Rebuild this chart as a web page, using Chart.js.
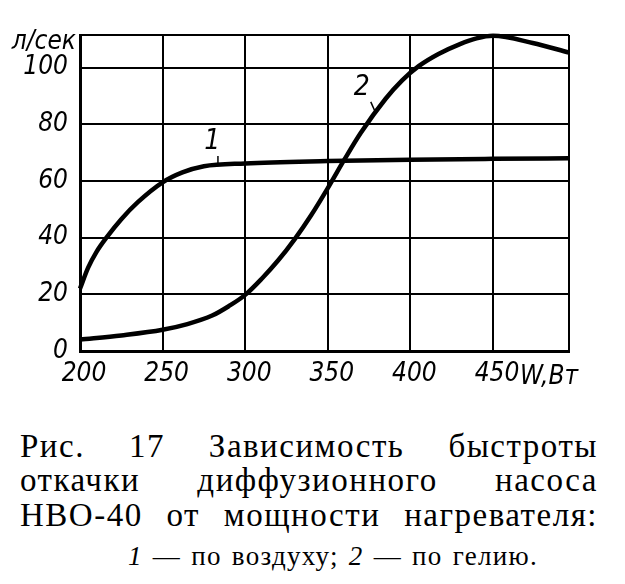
<!DOCTYPE html>
<html lang="ru">
<head>
<meta charset="utf-8">
<title>Рис. 17</title>
<script src="https://cdn.jsdelivr.net/npm/chart.js@4.4.1/dist/chart.umd.min.js"></script>
<style>
  html, body { margin: 0; padding: 0; background: #fff; }
  #page { position: relative; width: 625px; height: 584px; overflow: hidden; background: #fff; }
  #chartBox { position: absolute; left: 0; top: 0; width: 625px; height: 400px; }
  .cap {
    position: absolute; left: 20px; width: 578px;
    display: flex; justify-content: space-between;
    font-family: 'Liberation Serif', 'DejaVu Serif', serif;
    font-size: 33px; line-height: 33px; letter-spacing: 1.5px;
    color: #000; white-space: nowrap;
  }
  .note {
    position: absolute; left: 128px;
    font-family: 'Liberation Serif', 'DejaVu Serif', serif;
    font-size: 27px; line-height: 27px; color: #000; white-space: nowrap;
    letter-spacing: 1.3px; word-spacing: 2px;
  }
  .note i { font-style: italic; }
</style>
</head>
<body>
<div id="page">
  <div id="chartBox"><canvas id="pumpChart" width="625" height="400"></canvas></div>
  <div class="cap" style="top:430px"><span>Рис.</span><span>17</span><span>Зависимость</span><span>быстроты</span></div>
  <div class="cap" style="top:464px"><span>откачки</span><span>диффузионного</span><span>насоса</span></div>
  <div class="cap" style="top:499px"><span>НВО-40</span><span>от</span><span>мощности</span><span>нагревателя:</span></div>
  <div class="note" style="top:543px"><i>1</i> — по воздуху; <i>2</i> — по гелию.</div>
</div>
<script>
// ========== DATA ==========
const powerTicks = [200, 250, 300, 350, 400, 450];   // W, Вт
const speedTicks = [0, 20, 40, 60, 80, 100];         // л/сек

// curve 1 — по воздуху
const airPower = [200, 205, 210, 216, 225, 235, 250, 262, 275, 300, 350, 400, 450, 496];
const airSpeed = [22, 29.5, 35, 40, 46.5, 52.5, 59.5, 63, 65.2, 66.2, 67, 67.5, 67.8, 68];

// curve 2 — по гелию
const heliumPower = [200, 225, 250, 265, 280, 290, 300, 310, 320, 330, 340, 350, 360, 370, 385, 395, 405, 417, 430, 440, 450, 474, 496];
const heliumSpeed = [4, 5.5, 7.5, 9.5, 12.5, 15.8, 19.8, 25.5, 32, 39.5, 48, 57.5, 67.5, 77, 89, 95.5, 100.5, 104.8, 108.3, 110.3, 111.2, 108.7, 105.3];

const POWER_MAX = 496;
const SPEED_MAX = 111.5;

// ========== STYLE ==========
const INK = '#000';
const drawFont = { family: "'Liberation Sans Narrow', 'DejaVu Sans Condensed', sans-serif", size: 26, style: 'italic' };
const fontCss = (f) => `${f.style} ${f.size}px ${f.family}`;

// curve numbers with their little leader strokes (in data units)
const curveNotes = [
  { text: '1', at: [280, 74], lead: [[283.5, 68.8], [283.5, 65.6]] },
  { text: '2', at: [370.5, 92.8], lead: [[376, 87.9], [379, 84]] }
];

function toPoints(xs, ys) {
  return xs.map((x, i) => ({ x: x, y: ys[i] }));
}

// units and curve numbers are drawn on top of the plot
const extrasPlugin = {
  id: 'extras',
  afterDatasetsDraw(chart) {
    const { ctx, chartArea, scales } = chart;
    const xs = scales.x, ys = scales.y;
    ctx.save();
    ctx.fillStyle = INK;
    ctx.strokeStyle = INK;
    ctx.font = fontCss(drawFont);

    // axis units
    ctx.textBaseline = 'middle';
    ctx.textAlign = 'right';
    ctx.fillText('л/сек', chartArea.left - 4, chartArea.top + 7);
    ctx.textAlign = 'left';
    ctx.fillText('W,Вт', xs.getPixelForValue(450) + 27, chartArea.bottom + 26);

    // curve labels
    ctx.font = fontCss(Object.assign({}, drawFont, { size: 28 }));
    ctx.textAlign = 'center';
    ctx.lineWidth = 1.5;
    curveNotes.forEach(n => {
      ctx.fillText(n.text, xs.getPixelForValue(n.at[0]), ys.getPixelForValue(n.at[1]));
      ctx.beginPath();
      ctx.moveTo(xs.getPixelForValue(n.lead[0][0]), ys.getPixelForValue(n.lead[0][1]));
      ctx.lineTo(xs.getPixelForValue(n.lead[1][0]), ys.getPixelForValue(n.lead[1][1]));
      ctx.stroke();
    });
    ctx.restore();
  }
};

// ========== CHART ==========
function initPumpChart() {
  const el = document.getElementById('pumpChart');
  if (!el) return;

  const lineStyle = {
    borderColor: INK,
    borderWidth: 4.5,
    pointRadius: 0,
    fill: false,
    cubicInterpolationMode: 'monotone',
    clip: 8
  };

  new Chart(el.getContext('2d'), {
    type: 'line',
    data: {
      datasets: [
        Object.assign({ label: '1 — по воздуху', data: toPoints(airPower, airSpeed) }, lineStyle),
        Object.assign({ label: '2 — по гелию', data: toPoints(heliumPower, heliumSpeed) }, lineStyle)
      ]
    },
    options: {
      responsive: false,
      animation: false,
      events: [],
      layout: { padding: { left: 0, top: 35, right: 56, bottom: 0 } },
      plugins: {
        legend: { display: false },
        tooltip: { enabled: false }
      },
      scales: {
        x: {
          type: 'linear',
          min: 200,
          max: POWER_MAX,
          afterBuildTicks: s => { s.ticks = powerTicks.concat([POWER_MAX]).map(v => ({ value: v })); },
          afterFit: s => { s.height = 49; },
          ticks: {
            autoSkip: false,
            maxRotation: 0,
            color: INK,
            font: drawFont,
            padding: 8,
            labelOffset: 4,
            callback: v => powerTicks.includes(v) ? String(v) : ''
          },
          grid: { color: INK, lineWidth: 2, drawTicks: false },
          border: { color: INK, width: 3 }
        },
        y: {
          min: 0,
          max: SPEED_MAX,
          afterBuildTicks: s => { s.ticks = speedTicks.concat([SPEED_MAX]).map(v => ({ value: v })); },
          afterFit: s => { s.width = 80; },
          ticks: {
            autoSkip: false,
            color: INK,
            font: drawFont,
            padding: 12,
            callback: v => speedTicks.includes(v) ? String(v) : ''
          },
          grid: { color: INK, lineWidth: 2, drawTicks: false },
          border: { color: INK, width: 3 }
        }
      }
    },
    plugins: [extrasPlugin]
  });
}

document.addEventListener('DOMContentLoaded', initPumpChart);
</script>
</body>
</html>
